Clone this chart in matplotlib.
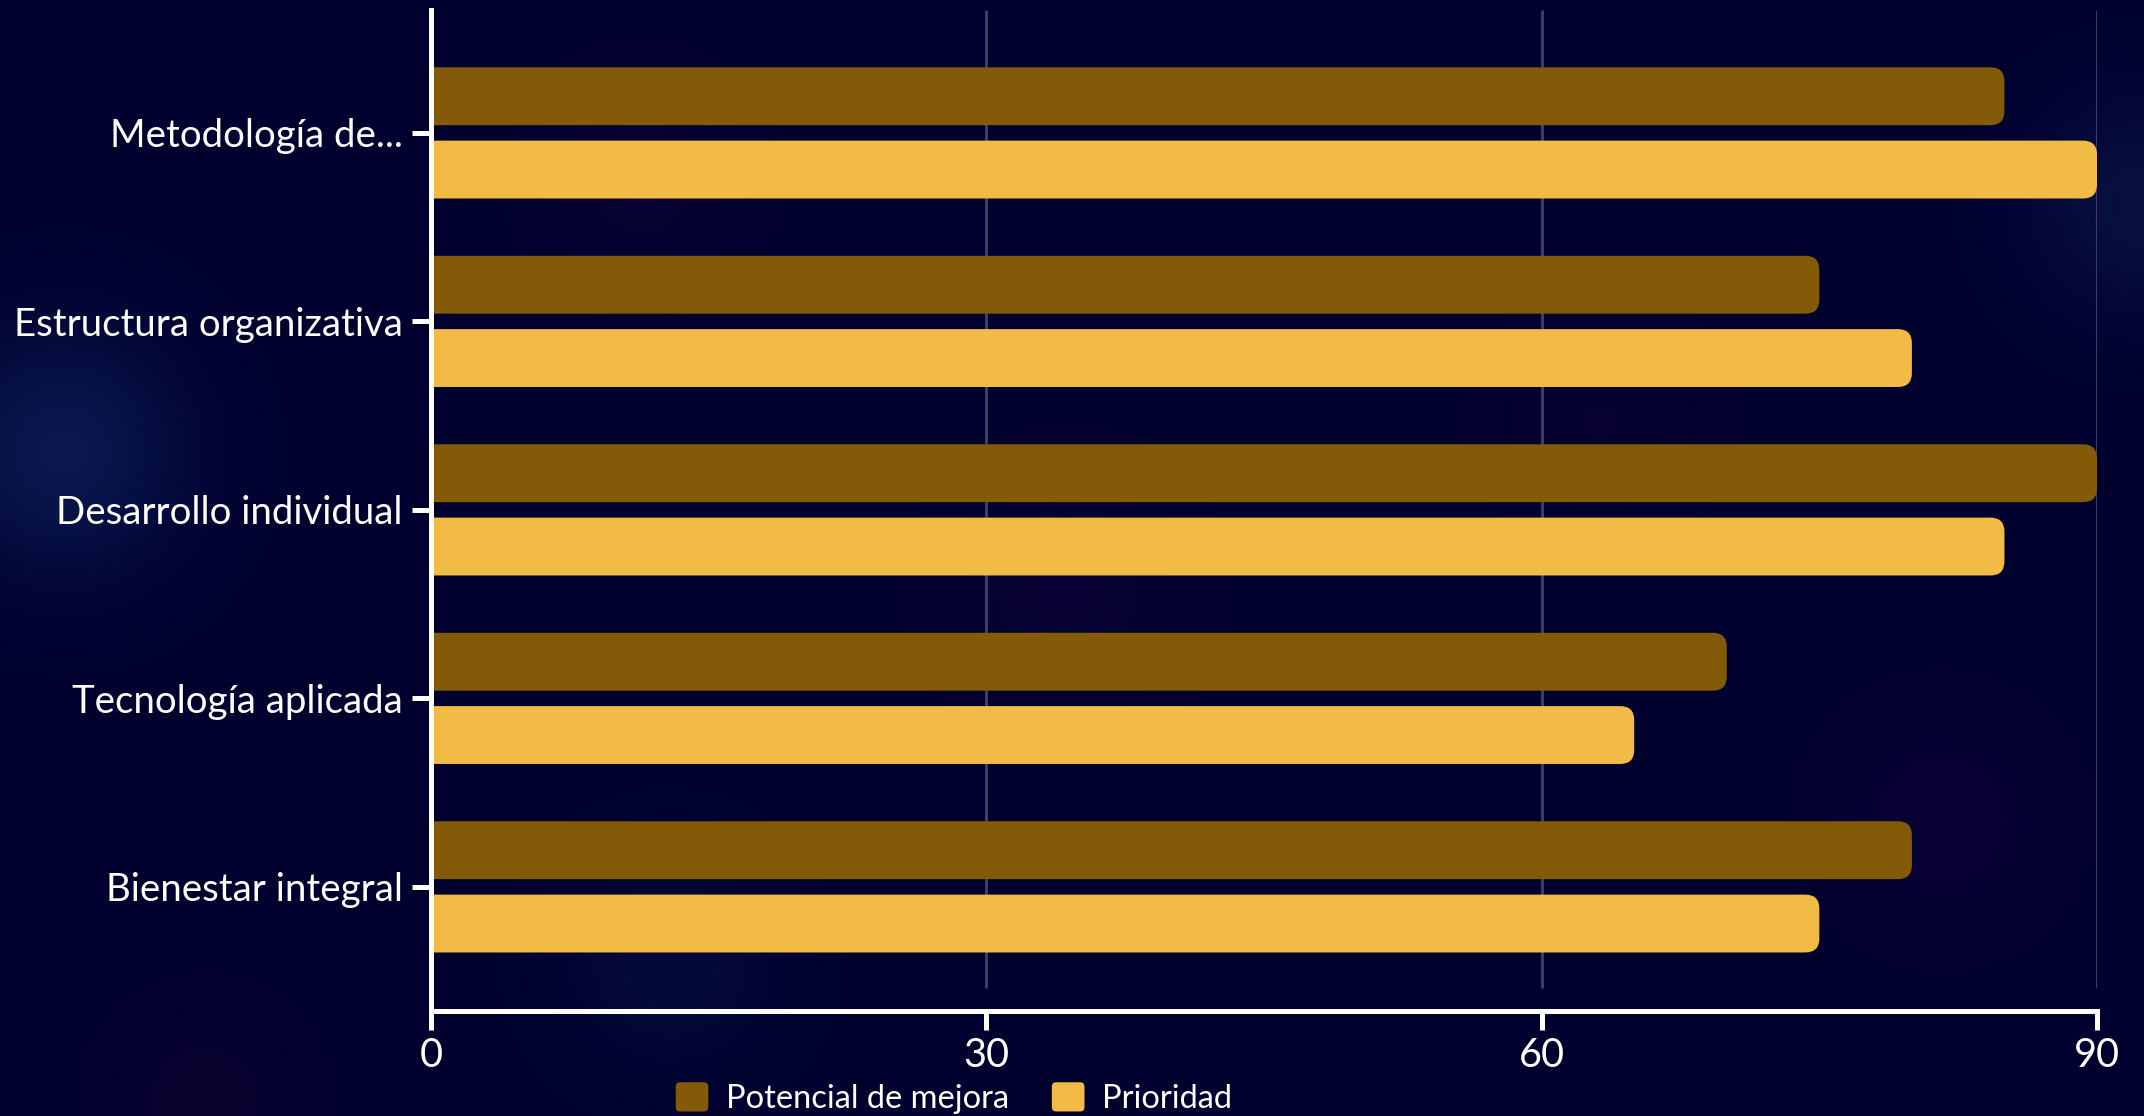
import numpy as np
import matplotlib
matplotlib.use("Agg")
import matplotlib.pyplot as plt
from matplotlib.patches import FancyBboxPatch, Patch
from matplotlib.legend_handler import HandlerPatch

plt.rcParams['font.family'] = ['Lato', 'DejaVu Sans']

categories = ["Metodología de...", "Estructura organizativa", "Desarrollo individual",
              "Tecnología aplicada", "Bienestar integral"]
potencial = [85, 75, 90, 70, 80]
prioridad = [90, 80, 85, 65, 75]
series_names = ["Potencial de mejora", "Prioridad"]
series_colors = ["#825a08", "#f2bb45"]
xticks = [0, 30, 60, 90]

W, H = 2144, 1116
fig = plt.figure(figsize=(W / 100, H / 100), dpi=100)

# dark navy backdrop with a few soft glows
bg = fig.add_axes([0, 0, 1, 1])
yy, xx = np.mgrid[0:H, 0:W]
img = np.zeros((H, W, 3))
img[:] = np.array([0, 0, 46]) / 255
glows = [
    (62, 451, 90, (14, 34, 92), 0.7),
    (2140, 205, 80, (14, 28, 80), 0.6),
    (1941, 820, 70, (22, 6, 62), 0.5),
    (642, 178, 70, (20, 8, 60), 0.4),
    (1066, 588, 80, (20, 8, 60), 0.45),
    (670, 960, 80, (8, 22, 70), 0.5),
    (205, 1100, 60, (26, 8, 50), 0.4),
    (1600, 420, 70, (24, 8, 52), 0.3),
]
for gx, gy, s, col, a in glows:
    w = a * np.exp(-((xx - gx) ** 2 + (yy - gy) ** 2) / (2 * s ** 2))
    img = img * (1 - w[..., None]) + (np.array(col) / 255) * w[..., None]
bg.imshow(img, aspect='auto', extent=[0, W, H, 0])
bg.set_axis_off()

left, right, top, bottom = 431, 2097, 10, 1011
ax = fig.add_axes([left / W, 1 - bottom / H, (right - left) / W, (bottom - top) / H])
ax.set_facecolor('none')

ax.set_xlim(0, 90)
ax.set_ylim(4.658, -0.6525)

# vertical grid, stopping short of the x axis
ax.vlines(xticks[1:], -0.6525, 4.536, color="#3c3c6a", linewidth=2.2, zorder=1)

# bars with rounded right ends
bar_h = 0.307
offsets = [-0.195, 0.194]
px_per_x = (right - left) / 90
px_per_y = 188.5
radius = 14 / px_per_x
aspect = px_per_x / px_per_y
y = np.arange(len(categories))
for vals, off, col in zip([potencial, prioridad], offsets, series_colors):
    for yi, v in zip(y, vals):
        p = FancyBboxPatch((-2, yi + off - bar_h / 2), v + 2, bar_h,
                           boxstyle=f"round,pad=0,rounding_size={radius}",
                           mutation_aspect=aspect, facecolor=col,
                           edgecolor='none', zorder=2)
        ax.add_patch(p)

ax.set_yticks(y)
ax.set_yticklabels(categories)
ax.set_xticks(xticks)
ax.set_xticklabels([str(t) for t in xticks])

for side in ['top', 'right']:
    ax.spines[side].set_visible(False)
for side in ['left', 'bottom']:
    ax.spines[side].set_color('white')
    ax.spines[side].set_linewidth(3.6)
    ax.spines[side].set_zorder(3)
ax.tick_params(axis='y', colors='white', length=13.5, width=3.6, pad=7, labelsize=27.6)
ax.tick_params(axis='x', colors='white', length=14, width=3.6, pad=5, labelsize=28.5)


def rounded_swatch(legend, orig_handle, xdescent, ydescent, width, height, fontsize):
    return FancyBboxPatch((-xdescent, -ydescent), width, height,
                          boxstyle=f"round,pad=0,rounding_size={height * 0.15}")


handles = [Patch(facecolor=c, edgecolor='none', label=n) for n, c in zip(series_names, series_colors)]
fig.legend(handles=handles, loc='center', bbox_to_anchor=(0.445, 0.016), ncol=2,
           frameon=False, fontsize=23.5, labelcolor='white', handlelength=1.0,
           handleheight=1.0, handletextpad=0.55, columnspacing=1.3, borderpad=0,
           handler_map={Patch: HandlerPatch(patch_func=rounded_swatch)})

fig.savefig("out.png", dpi=100, facecolor="#00002e")
